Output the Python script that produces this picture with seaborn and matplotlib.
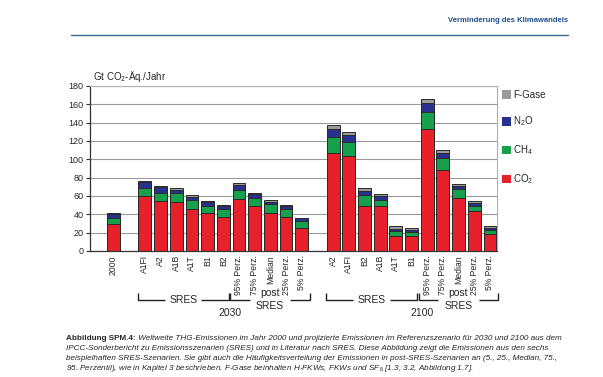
import numpy as np
import pandas as pd
import seaborn as sns
import matplotlib.pyplot as plt
from matplotlib.patches import Patch
from matplotlib.transforms import blended_transform_factory

# Data (Gt CO2-eq per year)
labels_2000 = ['2000']
labels_2030 = ['A1FI', 'A2', 'A1B', 'A1T', 'B1', 'B2',
               '95% Perz.', '75% Perz.', 'Median', '25% Perz.', '5% Perz.']
labels_2100 = ['A2', 'A1FI', 'B2', 'A1B', 'A1T', 'B1',
               '95% Perz.', '75% Perz.', 'Median', '25% Perz.', '5% Perz.']

co2 = [29.9,
       59.7, 54.6, 53.2, 45.5, 41.2, 36.8, 56.8, 48.8, 41.9, 37.5, 25.5,
       106.4, 103.1, 49.2, 49.5, 16.4, 16.4, 133.3, 88.9, 57.9, 43.4, 18.2]
ch4 = [6.5,
       9.5, 9.2, 9.8, 10.6, 7.6, 8.7, 9.9, 9.5, 9.1, 8.4, 7.7,
       18.2, 16.0, 12.0, 6.6, 5.1, 4.4, 18.6, 12.7, 9.9, 5.8, 5.1]
n2o = [4.4,
       5.8, 5.8, 3.7, 2.9, 4.4, 3.3, 5.4, 3.6, 2.9, 2.9, 2.5,
       8.7, 7.7, 4.0, 4.0, 2.9, 2.5, 9.1, 4.8, 3.6, 3.3, 2.2]
fgas = [0.4,
        1.9, 1.8, 1.8, 1.8, 1.1, 1.1, 2.6, 1.9, 2.2, 1.8, 0.7,
        4.0, 3.2, 3.3, 2.6, 3.3, 2.2, 4.4, 3.6, 2.2, 2.1, 2.2]

colors = {'CO2': '#e8202a', 'CH4': '#17a04c', 'N2O': '#29308f', 'F-Gase': '#9a9a9a'}

# x positions: one empty slot between the groups
n30, n100 = len(labels_2030), len(labels_2100)
start30 = 2
start100 = start30 + n30 + 1
pos = np.array([0] + list(range(start30, start30 + n30)) + list(range(start100, start100 + n100)))
labels = labels_2000 + labels_2030 + labels_2100

df = pd.DataFrame({'pos': pos, 'CO2': co2, 'CH4': ch4, 'N2O': n2o, 'F-Gase': fgas})
df['c_ch4'] = df['CO2'] + df['CH4']
df['c_n2o'] = df['c_ch4'] + df['N2O']
df['c_f'] = df['c_n2o'] + df['F-Gase']

sns.set_style('white')
plt.rcParams['font.family'] = ['Liberation Sans', 'DejaVu Sans']
plt.rcParams['mathtext.fontset'] = 'custom'
plt.rcParams['mathtext.rm'] = 'Liberation Sans'
plt.rcParams['mathtext.it'] = 'Liberation Sans:italic'

fig = plt.figure(figsize=(6.03, 3.77), dpi=100)
ax = fig.add_axes([90 / 603, 1 - 251 / 377, 407 / 603, 165 / 377])

edge = '#2a2a2a'
for col, c in [('c_f', 'F-Gase'), ('c_n2o', 'N2O'), ('c_ch4', 'CH4'), ('CO2', 'CO2')]:
    sns.barplot(data=df, x='pos', y=col, native_scale=True, width=0.82,
                color=colors[c], saturation=1, edgecolor=edge, linewidth=0.7, ax=ax)

ax.set_xlim(-1.5, pos[-1] + 0.45)
ax.set_ylim(0, 180)
ax.set_yticks(range(0, 181, 20))
ax.tick_params(axis='y', labelsize=6.5, length=3, width=0.8, color='#333333', pad=1.5, left=True)
ax.set_xticks(pos)
ax.set_xticklabels(labels, rotation=90, fontsize=6.2)
ax.tick_params(axis='x', length=0, pad=3)
ax.set_xlabel('')
ax.set_ylabel('')
ax.yaxis.grid(True, color='#9a9a9a', linewidth=0.8)
ax.set_axisbelow(True)
for s in ['left', 'bottom']:
    ax.spines[s].set_color('#333333')
    ax.spines[s].set_linewidth(0.9)
for s in ['top', 'right']:
    ax.spines[s].set_color('#b0b0b0')
    ax.spines[s].set_linewidth(0.8)

fig.text(93 / 603, 1 - 76 / 377, 'Gt CO$_2$-Äq./Jahr', fontsize=7, va='center', ha='left')

# legend
handles = [Patch(facecolor=colors[k], edgecolor='none') for k in ['F-Gase', 'N2O', 'CH4', 'CO2']]
leg_labels = ['F-Gase', 'N$_2$O', 'CH$_4$', 'CO$_2$']
ax.legend(handles, leg_labels, loc='upper left', bbox_to_anchor=(0.995, 1.02), frameon=False,
          fontsize=7, handlelength=0.9, handleheight=1.0, handletextpad=0.3,
          labelspacing=1.55, borderaxespad=0.3)

# group brackets under the axis
tr = blended_transform_factory(ax.transData, ax.transAxes)
yb = (251 - 300) / 165
yt = (251 - 293) / 165
kw = dict(color='#222222', lw=1.0, transform=tr, clip_on=False, solid_capstyle='butt')


def bracket(x0, x1, gap):
    m = (x0 + x1) / 2
    ax.plot([x0, x0, m - gap], [yt, yb, yb], **kw)
    ax.plot([m + gap, x1, x1], [yb, yb, yt], **kw)


for off in [start30, start100]:
    a = off - 0.45
    b = off + 5.35
    c = off + 5.45
    d = off + 10.5
    bracket(a, b, 1.15)
    bracket(c, d, 1.3)
    ax.text((a + b) / 2, yb, 'SRES', transform=tr, ha='center', va='center', fontsize=7.5)
    ax.text((c + d) / 2, yb + 0.012, 'post', transform=tr, ha='center', va='bottom', fontsize=7.5)
    ax.text((c + d) / 2, yb - 0.005, 'SRES', transform=tr, ha='center', va='top', fontsize=7.5)
ax.text(start30 + 5.4, (251 - 313) / 165, '2030', transform=tr, ha='center', va='center', fontsize=7.5)
ax.text(start100 + 5.7, (251 - 313) / 165, '2100', transform=tr, ha='center', va='center', fontsize=7.5)

# header
fig.text(568 / 603, 1 - 21 / 377, 'Verminderung des Klimawandels', ha='right', va='center',
         fontsize=5.5, fontweight='bold', color='#1f4f8a')
fig.add_artist(plt.Line2D([71 / 603, 568 / 603], [1 - 35 / 377, 1 - 35 / 377],
                          color='#3b6796', lw=1.0, transform=fig.transFigure))

# caption
cap_bold = 'Abbildung SPM.4:'
cap_lines = [
    ' Weltweite THG-Emissionen im Jahr 2000 und projizierte Emissionen im Referenzszenario für 2030 und 2100 aus dem',
    'IPCC-Sonderbericht zu Emissionsszenarien (SRES) und in Literatur nach SRES. Diese Abbildung zeigt die Emissionen aus den sechs',
    'beispielhaften SRES-Szenarien. Sie gibt auch die Häufigkeitsverteilung der Emissionen in post-SRES-Szenarien an (5., 25., Median, 75.,',
    '95. Perzentil), wie in Kapitel 3 beschrieben. F-Gase beinhalten H-FKWs, FKWs und SF$_6$ [1.3, 3.2, Abbildung 1.7].',
]
cap_x = 66 / 603
cap_fs = 5.9
renderer = fig.canvas.get_renderer()
tb = fig.text(cap_x, 1 - 338 / 377, cap_bold, fontsize=cap_fs, fontweight='bold', va='center', ha='left')
bb = tb.get_window_extent(renderer=renderer)
fig.text(bb.x1 / fig.bbox.width, 1 - 338 / 377, cap_lines[0], fontsize=cap_fs, style='italic',
         va='center', ha='left')
for i, line in enumerate(cap_lines[1:]):
    fig.text(cap_x, 1 - (338 + 10 * (i + 1)) / 377, line, fontsize=cap_fs, style='italic',
             va='center', ha='left')

fig.savefig('out.png', dpi=100)
